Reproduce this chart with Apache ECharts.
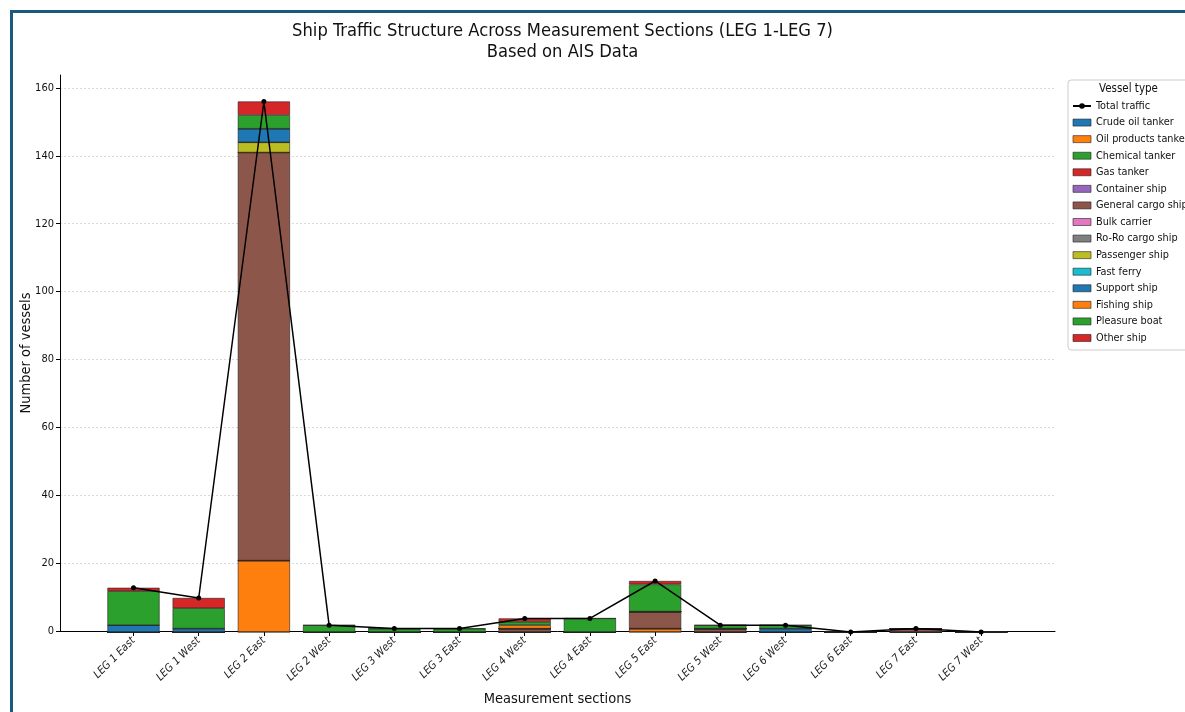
<!DOCTYPE html>
<html>
<head>
<meta charset="utf-8">
<script src="https://cdn.jsdelivr.net/npm/echarts@6/dist/echarts.min.js"></script>
<style>
html,body{margin:0;padding:0;background:#fff;}
#chart{width:1185px;height:712px;}
</style>
</head>
<body>
<div id="chart"></div>
<script>
const categories = ['LEG 1 East','LEG 1 West','LEG 2 East','LEG 2 West','LEG 3 West','LEG 3 East','LEG 4 West','LEG 4 East','LEG 5 East','LEG 5 West','LEG 6 West','LEG 6 East','LEG 7 East','LEG 7 West'];
const vesselTypes = ['Crude oil tanker','Oil products tanker','Chemical tanker','Gas tanker','Container ship','General cargo ship','Bulk carrier','Ro-Ro cargo ship','Passenger ship','Fast ferry','Support ship','Fishing ship','Pleasure boat','Other ship'];
const crudeOilTanker    = [0,0,0,0,0,0,0,0,0,0,0,0,0,0];
const oilProductsTanker = [0,0,21,0,0,0,0,0,1,0,0,0,0,0];
const chemicalTanker    = [0,0,0,0,0,0,0,0,0,0,0,0,0,0];
const gasTanker         = [0,0,0,0,0,0,0,0,0,0,0,0,0,0];
const containerShip     = [0,0,0,0,0,0,0,0,0,0,0,0,0,0];
const generalCargoShip  = [0,0,120,0,0,0,1,0,5,1,0,0,1,0];
const bulkCarrier       = [0,0,0,0,0,0,0,0,0,0,0,0,0,0];
const roRoCargoShip     = [0,0,0,0,0,0,0,0,0,0,0,0,0,0];
const passengerShip     = [0,0,3,0,0,0,0,0,0,0,0,0,0,0];
const fastFerry         = [0,0,0,0,0,0,0,0,0,0,0,0,0,0];
const supportShip       = [2,1,4,0,0,0,0,0,0,0,1,0,0,0];
const fishingShip       = [0,0,0,0,0,0,1,0,0,0,0,0,0,0];
const pleasureBoat      = [10,6,4,2,1,1,1,4,8,1,1,0,0,0];
const otherShip         = [1,3,4,0,0,0,1,0,1,0,0,0,0,0];
const totalTraffic      = [13,10,156,2,1,1,4,4,15,2,2,0,1,0];
const yTicks = [0,20,40,60,80,100,120,140,160];

const typeValues = [crudeOilTanker,oilProductsTanker,chemicalTanker,gasTanker,containerShip,generalCargoShip,bulkCarrier,roRoCargoShip,passengerShip,fastFerry,supportShip,fishingShip,pleasureBoat,otherShip];
const palette = ['#1f77b4','#ff7f0e','#2ca02c','#d62728','#9467bd','#8c564b','#e377c2','#7f7f7f','#bcbd22','#17becf','#1f77b4','#ff7f0e','#2ca02c','#d62728'];

const FONT = "'DejaVu Sans Condensed','Liberation Sans Narrow','DejaVu Sans',sans-serif";
const YMAX = 163.8;
const unit = 65.2;
const firstCenter = 133.5;
const gridTop = 75, gridBottom = 80;

const chart = echarts.init(document.getElementById('chart'));

const series = typeValues.map((vals, i) => ({
  name: vesselTypes[i],
  type: 'bar',
  stack: 'total',
  xAxisIndex: 1,
  yAxisIndex: 1,
  barWidth: '80%',
  data: vals,
  itemStyle: {color: palette[i], borderColor: '#222', borderWidth: 0.6},
  emphasis: {disabled: true},
  z: 2
}));
series.unshift({
  name: 'Total traffic',
  type: 'line',
  xAxisIndex: 1,
  yAxisIndex: 1,
  data: totalTraffic,
  symbol: 'circle',
  symbolSize: 5,
  lineStyle: {color: '#000', width: 1.5},
  itemStyle: {color: '#000'},
  z: 5,
  emphasis: {disabled: true}
});

const legendData = [{name: 'Total traffic'}].concat(vesselTypes.map(n => ({name: n, icon: 'rect'})));

const option = {
  backgroundColor: '#fff',
  animation: false,
  textStyle: {fontFamily: FONT},
  title: {
    text: 'Ship Traffic Structure Across Measurement Sections (LEG 1-LEG 7)\nBased on AIS Data',
    left: 557.5,
    textAlign: 'center',
    top: 16,
    textStyle: {fontFamily: FONT, fontSize: 18.2, fontWeight: 'normal', color: '#111', lineHeight: 21}
  },
  legend: {
    orient: 'vertical',
    left: 1068,
    top: 80,
    padding: [20, 6, 6, 4],
    itemWidth: 18,
    itemHeight: 7,
    itemGap: 4.57,
    borderColor: '#ccc',
    borderWidth: 1,
    borderRadius: 3,
    backgroundColor: '#fff',
    itemStyle: {borderWidth: 0.6},
    textStyle: {fontFamily: FONT, fontSize: 10.8, color: '#111', lineHeight: 12},
    data: legendData
  },
  graphic: [
    {type: 'rect', shape: {x: 10, y: 10, width: 1175, height: 3}, style: {fill: '#1b5a7e'}, silent: true},
    {type: 'rect', shape: {x: 10, y: 10, width: 3, height: 702}, style: {fill: '#1b5a7e'}, silent: true},
    {type: 'text', left: 1099, top: 83, style: {text: 'Vessel type', fontFamily: FONT, fontSize: 11.5, fill: '#111'}, z: 100}
  ],
  grid: [
    {left: 60, right: 1185 - 1055, top: gridTop, bottom: gridBottom},
    {left: firstCenter - unit / 2, width: unit * categories.length, top: gridTop, bottom: gridBottom}
  ],
  xAxis: [
    {
      type: 'value', gridIndex: 0, min: 0, max: 1,
      axisLine: {show: true, lineStyle: {color: '#000', width: 1}},
      axisTick: {show: false}, axisLabel: {show: false}, splitLine: {show: false},
      name: 'Measurement sections', nameLocation: 'middle', nameGap: 61,
      nameTextStyle: {fontFamily: FONT, fontSize: 14.5, color: '#111'}
    },
    {
      type: 'category', gridIndex: 1, data: categories, boundaryGap: true,
      axisLine: {show: false},
      axisTick: {show: true, alignWithLabel: true, interval: 0, length: 4, lineStyle: {color: '#000'}},
      axisLabel: {interval: 0, rotate: 45, fontFamily: FONT, fontSize: 11, color: '#222', margin: 7, fontStyle: 'italic'},
      splitLine: {show: false}
    }
  ],
  yAxis: [
    {
      type: 'value', gridIndex: 0, min: 0, max: YMAX,
      axisLine: {show: true, lineStyle: {color: '#000', width: 1}},
      axisTick: {show: true, length: 4, lineStyle: {color: '#000'}, customValues: yTicks},
      axisLabel: {fontFamily: FONT, fontSize: 11, color: '#111', margin: 6,
        customValues: yTicks, formatter: v => String(v)},
      splitLine: {show: true, lineStyle: {color: '#d0d0d0', type: [2, 2], width: 0.8}},
      name: 'Number of vessels', nameLocation: 'middle', nameGap: 26, nameRotate: 90,
      nameMoveOverlap: false,
      nameTextStyle: {fontFamily: FONT, fontSize: 14.5, color: '#111'}
    },
    {
      type: 'value', gridIndex: 1, min: 0, max: YMAX,
      axisLine: {show: false}, axisTick: {show: false}, axisLabel: {show: false}, splitLine: {show: false}
    }
  ],
  series: series
};
chart.setOption(option);
</script>
</body>
</html>
